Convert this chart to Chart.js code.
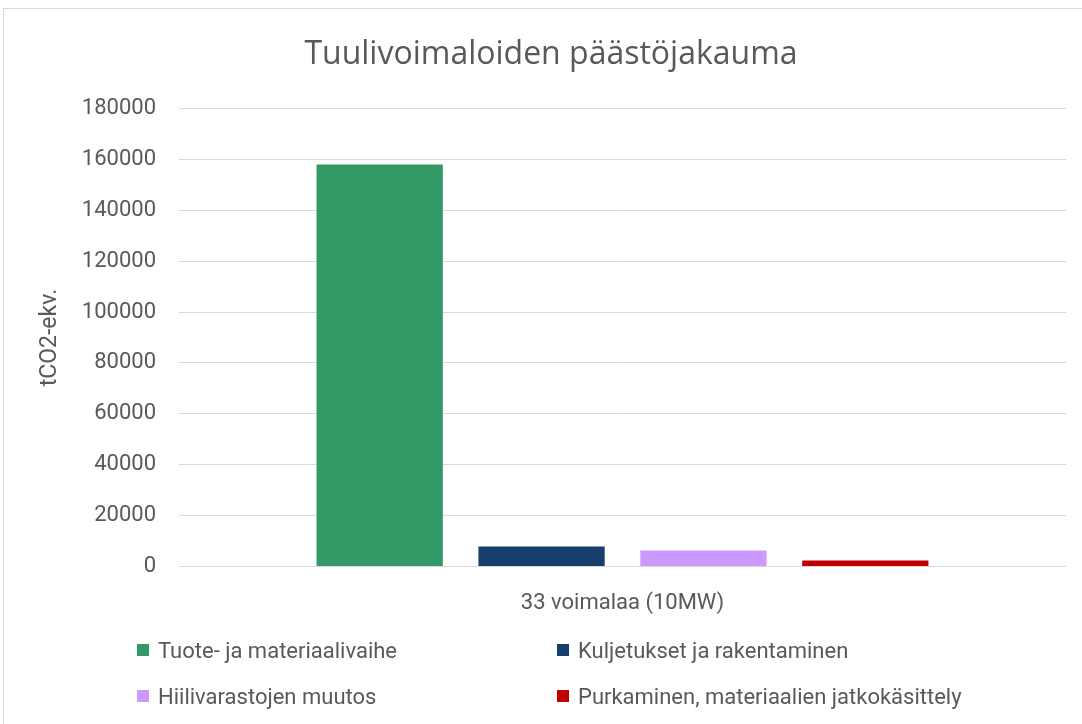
<!DOCTYPE html>
<html lang="fi">
<head>
    <meta charset="UTF-8">
    <title>Tuulivoimaloiden päästöjakauma</title>
    <style>
        html, body { margin: 0; padding: 0; overflow: hidden; background: #fff; }
        body { width: 1082px; height: 724px; position: relative; font-family: Roboto, sans-serif; }
        .frame { position: absolute; left: 3px; top: 8px; width: 1100px; height: 740px; border: 1px solid #d9d9d9; }
        .chart-box { position: absolute; left: 0; top: 0; width: 1102px; height: 724px; }
        #legend { position: absolute; left: 0; top: 0; width: 1082px; height: 724px; pointer-events: none; }
        .item { position: absolute; display: flex; align-items: center; color: #595959; font-size: 22px; white-space: nowrap; }
        .swatch { width: 12px; height: 12px; margin-right: 9px; }
    </style>
    <script src="https://cdn.jsdelivr.net/npm/chart.js"></script>
</head>
<body>
    <div class="frame"></div>
    <div class="chart-box">
        <canvas id="emissionsChart" width="1102" height="724"></canvas>
    </div>
    <div id="legend"></div>

    <script>
        const categories = ['33 voimalaa (10MW)'];
        const phases = [
            'Tuote- ja materiaalivaihe',
            'Kuljetukset ja rakentaminen',
            'Hiilivarastojen muutos',
            'Purkaminen, materiaalien jatkokäsittely'
        ];
        const emissions = [158000, 7900, 6300, 2400];
        const colors = ['#339966', '#163f6e', '#cc99ff', '#c00000'];
        const yTicks = [0, 20000, 40000, 60000, 80000, 100000, 120000, 140000, 160000, 180000];

        const textColor = '#595959';

        const datasets = phases.map((label, i) => ({
            label: label,
            data: [emissions[i]],
            backgroundColor: colors[i],
            categoryPercentage: 0.73,
            barPercentage: 0.78
        }));

        const ctx = document.getElementById('emissionsChart').getContext('2d');
        const chart = new Chart(ctx, {
            type: 'bar',
            data: { labels: categories, datasets: datasets },
            options: {
                responsive: false,
                animation: false,
                layout: { padding: { left: 36, right: 36, top: 36, bottom: 91 } },
                plugins: {
                    legend: { display: false },
                    tooltip: { enabled: false },
                    title: {
                        display: true,
                        text: 'Tuulivoimaloiden päästöjakauma',
                        color: textColor,
                        font: { family: 'Open Sans', size: 32, weight: 'normal' },
                        padding: { top: 0, bottom: 34 }
                    }
                },
                scales: {
                    x: {
                        grid: { display: false },
                        border: { display: false },
                        ticks: {
                            color: textColor,
                            padding: 16,
                            font: { family: 'Roboto', size: 22 }
                        }
                    },
                    y: {
                        min: 0,
                        max: 180000,
                        afterBuildTicks: scale => {
                            scale.ticks = yTicks.map(v => ({ value: v }));
                        },
                        afterFit: scale => { scale.width = 143; },
                        grid: { color: '#d9d9d9', lineWidth: 1, drawTicks: false },
                        border: { display: false },
                        ticks: {
                            color: textColor,
                            padding: 23,
                            font: { family: 'Roboto', size: 22 },
                            callback: value => String(value)
                        },
                        title: {
                            display: true,
                            text: 'tCO2-ekv.',
                            color: textColor,
                            font: { family: 'Roboto', size: 23 },
                            padding: { top: 0, bottom: 0 }
                        }
                    }
                }
            }
        });

        // legend in two columns below the x axis
        const legend = document.getElementById('legend');
        const colX = [137, 557];
        const rowY = [650, 696];
        chart.data.datasets.forEach((ds, i) => {
            const item = document.createElement('div');
            item.className = 'item';
            item.style.left = colX[i % 2] + 'px';
            item.style.top = (rowY[Math.floor(i / 2)] - 13) + 'px';
            item.style.height = '26px';
            item.innerHTML = `<span class="swatch" style="background:${ds.backgroundColor}"></span>${ds.label}`;
            legend.appendChild(item);
        });
    </script>
</body>
</html>
